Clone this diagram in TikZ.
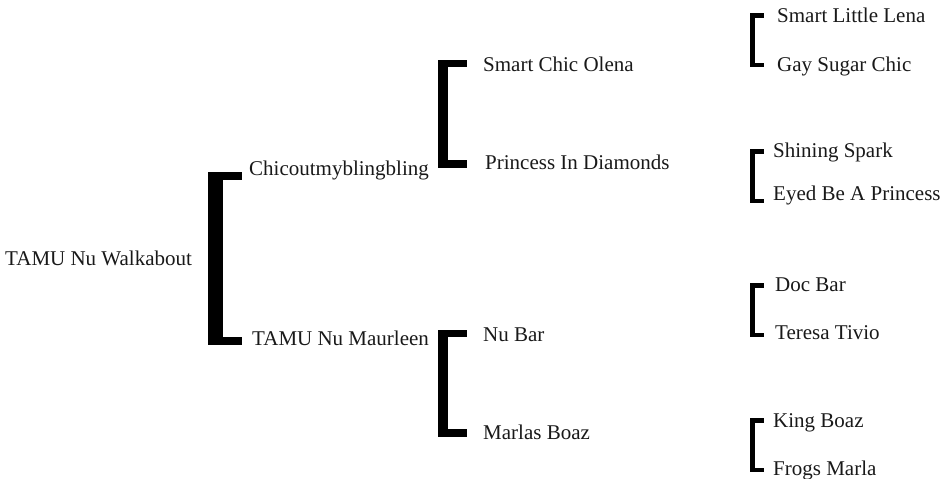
\documentclass[tikz,border=0pt]{standalone}
\usepackage{fontspec}
\setmainfont{Liberation Serif}
\begin{document}
\begin{tikzpicture}[x=1pt,y=-1pt,
  pname/.style={anchor=base west,inner sep=0pt,font=\fontsize{21}{24}\selectfont,text=black!90},
  bar/.style={fill=black}]
\useasboundingbox (0,0) rectangle (948,479);
% names
\node[pname] (root) at (5,265) {TAMU Nu Walkabout};
\node[pname] (s) at (249,175) {Chicoutmyblingbling};
\node[pname] (d) at (252,345) {TAMU Nu Maurleen};
\node[pname] (ss) at (483,71) {Smart Chic Olena};
\node[pname] (sd) at (485,169) {Princess In Diamonds};
\node[pname] (ds) at (483,341) {Nu Bar};
\node[pname] (dd) at (483,439) {Marlas Boaz};
\node[pname] (sss) at (777,23) {Smart Little Lena};
\node[pname] (ssd) at (777,71) {Gay Sugar Chic};
\node[pname] (sds) at (773,157) {Shining Spark};
\node[pname] (sdd) at (773,200) {Eyed Be A Princess};
\node[pname] (dss) at (775,291) {Doc Bar};
\node[pname] (dsd) at (775,339) {Teresa Tivio};
\node[pname] (dds) at (773,427) {King Boaz};
\node[pname] (ddd) at (773,475) {Frogs Marla};
% generation 1 bracket
\fill[bar] (208,172) rectangle (223,345);
\fill[bar] (208,172) rectangle (242,180);
\fill[bar] (208,337) rectangle (242,345);
% generation 2 brackets
\fill[bar] (438,60) rectangle (448,168);
\fill[bar] (438,60) rectangle (467,67);
\fill[bar] (438,160) rectangle (467,168);
\fill[bar] (438,330) rectangle (448,437);
\fill[bar] (438,330) rectangle (467,337);
\fill[bar] (438,429) rectangle (467,437);
% generation 3 brackets
\foreach \t/\b in {13/67,149/203,283/337,418/472}{
  \fill[bar] (750,\t) rectangle (755,\b);
  \fill[bar] (750,\t) rectangle (764,\t+4.5);
  \fill[bar] (750,\b-4.5) rectangle (764,\b);
}
\end{tikzpicture}
\end{document}
